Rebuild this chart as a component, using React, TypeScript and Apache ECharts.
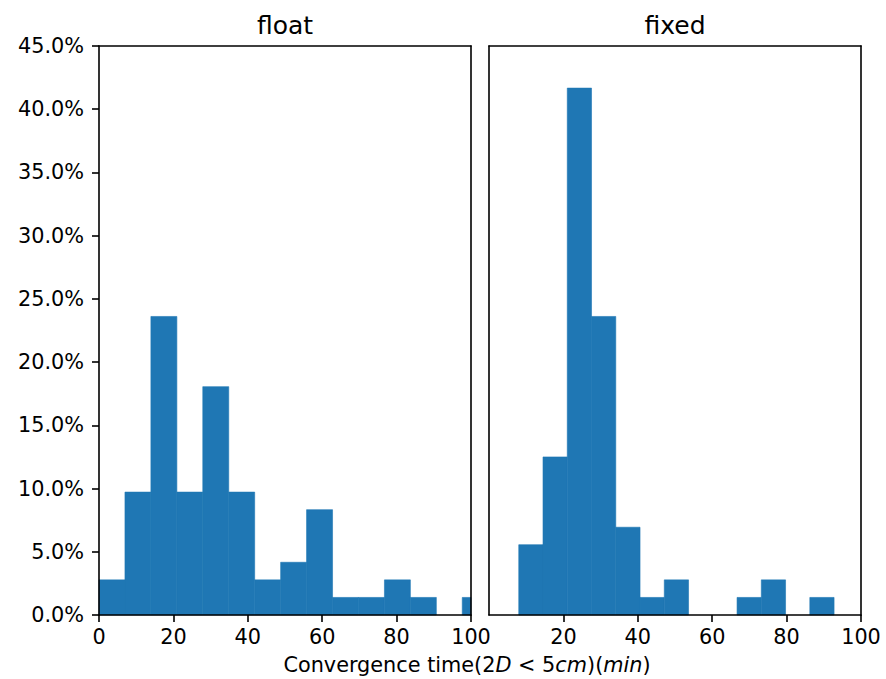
import React, { useEffect, useRef } from "react";
import * as echarts from "echarts";

// Histogram bin edges (minutes)
const floatEdges = [0, 6.98, 13.95, 20.93, 27.9, 34.88, 41.85, 48.83, 55.8, 62.78, 69.75, 76.73, 83.7, 90.68, 97.65, 104.63];
const floatPercent = [2.78, 9.72, 23.61, 9.72, 18.06, 9.72, 2.78, 4.17, 8.33, 1.39, 1.39, 2.78, 1.39, 0, 1.39];

const fixedEdges = [8.0, 14.52, 21.04, 27.56, 34.08, 40.6, 47.12, 53.64, 60.16, 66.68, 73.2, 79.72, 86.24, 92.76];
const fixedPercent = [5.56, 12.5, 41.67, 23.61, 6.94, 1.39, 2.78, 0, 0, 1.39, 2.78, 0, 1.39];

const panelTitles = ["float", "fixed"];
const xTicksLeft = [0, 20, 40, 60, 80, 100];
const xTicksRight = [20, 40, 60, 80, 100];
const yMax = 45;
const yStep = 5;

const FONT = "DejaVu Sans";
const BAR = "#1f77b4";

function toBins(edges: number[], vals: number[]) {
  return vals.map((v, i) => [edges[i], edges[i + 1], v]);
}

const renderBar = (params: any, api: any) => {
  const x0 = api.value(0);
  const x1 = api.value(1);
  const y = api.value(2);
  if (!y) return null;
  const p0 = api.coord([x0, 0]);
  const p1 = api.coord([x1, y]);
  const rect = echarts.graphic.clipRectByRect(
    { x: p0[0], y: p1[1], width: p1[0] - p0[0], height: p0[1] - p1[1] },
    {
      x: params.coordSys.x,
      y: params.coordSys.y,
      width: params.coordSys.width,
      height: params.coordSys.height,
    }
  );
  if (!rect) return null;
  return { type: "rect", shape: rect, style: { fill: BAR, stroke: BAR, lineWidth: 0.6 } };
};

export default function App() {
  const ref = useRef<HTMLDivElement>(null);
  useEffect(() => {
    if (!ref.current) return;
    const chart = echarts.init(ref.current, undefined, { renderer: "svg" });
    const spine = { show: true, lineStyle: { color: "#000", width: 1.6 } };
    const tickStyle = { show: true, length: 7, inside: false, lineStyle: { color: "#000", width: 1.6 } };
    const labelStyle = { color: "#000", fontFamily: FONT, fontSize: 20.8 };
    const grids = [
      { left: 99, right: 415, top: 46, bottom: 64 },
      { left: 489, right: 25, top: 46, bottom: 64 },
    ];
    const xAxes: any[] = [];
    const yAxes: any[] = [];
    [0, 1].forEach((g) => {
      xAxes.push({
        type: "value",
        gridIndex: g,
        min: 0,
        max: 100,
        interval: 20,
        position: "bottom",
        z: 10,
        splitLine: { show: false },
        axisLine: { ...spine, onZero: false },
        axisTick: { ...tickStyle, customValues: g === 0 ? xTicksLeft : xTicksRight },
        axisLabel: { ...labelStyle, margin: 11, customValues: g === 0 ? xTicksLeft : xTicksRight },
      });
      xAxes.push({
        type: "value",
        gridIndex: g,
        min: 0,
        max: 100,
        position: "top",
        z: 10,
        splitLine: { show: false },
        axisLine: { ...spine, onZero: false },
        axisTick: { show: false },
        axisLabel: { show: false },
      });
      yAxes.push({
        type: "value",
        gridIndex: g,
        min: 0,
        max: yMax,
        interval: yStep,
        position: "left",
        z: 10,
        splitLine: { show: false },
        axisLine: { ...spine, onZero: false },
        axisTick: g === 0 ? tickStyle : { show: false },
        axisLabel:
          g === 0
            ? { ...labelStyle, margin: 15, formatter: (v: number) => v.toFixed(1) + "%" }
            : { show: false },
      });
      yAxes.push({
        type: "value",
        gridIndex: g,
        min: 0,
        max: yMax,
        interval: yStep,
        position: "right",
        z: 10,
        splitLine: { show: false },
        axisLine: { ...spine, onZero: false },
        axisTick: { show: false },
        axisLabel: { show: false },
      });
    });

    chart.setOption({
      animation: false,
      backgroundColor: "#fff",
      grid: grids,
      xAxis: xAxes,
      yAxis: yAxes,
      series: [
        {
          type: "custom",
          xAxisIndex: 0,
          yAxisIndex: 0,
          renderItem: renderBar,
          encode: { x: [0, 1], y: 2 },
          data: toBins(floatEdges, floatPercent),
        },
        {
          type: "custom",
          xAxisIndex: 2,
          yAxisIndex: 2,
          renderItem: renderBar,
          encode: { x: [0, 1], y: 2 },
          data: toBins(fixedEdges, fixedPercent),
        },
      ],
      graphic: [
        {
          type: "text",
          x: 285,
          y: 25,
          style: {
            text: panelTitles[0],
            fontFamily: FONT,
            fontSize: 25,
            fill: "#000",
            align: "center",
            verticalAlign: "middle",
          },
        },
        {
          type: "text",
          x: 675,
          y: 25,
          style: {
            text: panelTitles[1],
            fontFamily: FONT,
            fontSize: 25,
            fill: "#000",
            align: "center",
            verticalAlign: "middle",
          },
        },
        {
          type: "text",
          x: 467,
          y: 665,
          style: {
            text: "{n|Convergence time(2}{i|D}{n| < 5}{i|cm}{n|)(}{i|min}{n|)}",
            align: "center",
            verticalAlign: "middle",
            fill: "#000",
            rich: {
              n: { fontFamily: FONT, fontSize: 20.8, fill: "#000" },
              i: { fontFamily: FONT, fontSize: 20.8, fontStyle: "italic", fill: "#000" },
            },
          },
        },
      ],
    });
    return () => chart.dispose();
  }, []);
  return (
    <div
      ref={ref}
      style={{ width: 886, height: 679, position: "absolute", left: 0, top: 0 }}
    />
  );
}
